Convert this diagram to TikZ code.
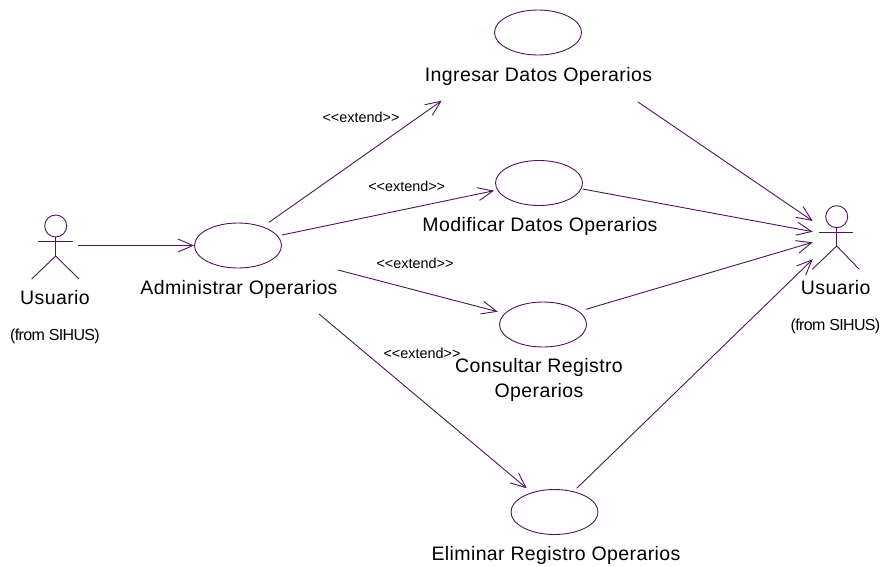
\documentclass[tikz,border=0pt]{standalone}
\usepackage{fontspec}
\setmainfont{Liberation Sans}
\newfontfamily\labfont[LetterSpace=2]{Liberation Sans}
\newfontfamily\fromfont[LetterSpace=-4]{Liberation Sans}
\usetikzlibrary{arrows.meta,shapes.geometric}
\definecolor{umlline}{RGB}{80,20,90}
\tikzset{
  x=1pt,y=-1pt,
  usecase/.style={draw=umlline,ellipse,line width=0.9pt,minimum width=87pt,minimum height=45pt,inner sep=0pt},
  conn/.style={draw=umlline,line width=0.9pt,-{Straight Barb[length=15pt,width=13pt,line width=0.9pt]}},
  limb/.style={draw=umlline,line width=0.9pt},
  headc/.style={draw=umlline,circle,line width=0.9pt,minimum size=22pt,inner sep=0pt},
  lab/.style={font=\labfont\fontsize{19.5}{25.4}\selectfont,text=black,inner sep=0pt,align=center,anchor=base},
  from/.style={font=\fromfont\fontsize{16}{18}\selectfont,text=black,inner sep=0pt,anchor=base},
  small/.style={font=\fontsize{14.4}{16}\selectfont,text=black,inner sep=0pt,anchor=base}
}
\begin{document}
\begin{tikzpicture}
\useasboundingbox (0,0) rectangle (884,566);
% use cases
\node[usecase] (adm) at (238,245.5) {};
\node[usecase] (ing) at (538,32.5) {};
\node[usecase] (mod) at (539,183) {};
\node[usecase] (con) at (543,324.5) {};
\node[usecase] (eli) at (554.5,512) {};
% labels
\node[lab] (admL) at (239,294) {Administrar Operarios};
\node[lab] (ingL) at (538.5,81) {Ingresar Datos Operarios};
\node[lab] (modL) at (540,231) {Modificar Datos Operarios};
\node[lab,anchor=center] (conL) at (539,380) {Consultar Registro\\Operarios};
\node[lab] (eliL) at (556,560) {Eliminar Registro Operarios};
% actors
\node[headc] (h1) at (55.7,226) {};
\coordinate (a1l) at (38,241.7); \coordinate (a1r) at (72.7,241.7);
\coordinate (hip1) at (55.7,256); \coordinate (f1l) at (31.7,279); \coordinate (f1r) at (79,279);
\draw[limb] (a1l) -- (a1r);
\draw[limb] (h1.south) -- (hip1);
\draw[limb] (f1l) -- (hip1) -- (f1r);
\node[headc] (h2) at (836.7,216.7) {};
\coordinate (a2l) at (819,232); \coordinate (a2r) at (853,232);
\coordinate (hip2) at (836.7,246); \coordinate (f2l) at (812.3,269.3); \coordinate (f2r) at (859.3,269.3);
\draw[limb] (a2l) -- (a2r);
\draw[limb] (h2.south) -- (hip2);
\draw[limb] (f2l) -- (hip2) -- (f2r);
\node[lab] (u1) at (55,304) {Usuario};
\node[from] (f1) at (55,340.7) {(from SIHUS)};
\node[lab] (u2) at (835.7,294) {Usuario};
\node[from] (f2) at (835.5,330) {(from SIHUS)};
% connector ends
\coordinate (s0) at (78,245.5); \coordinate (e0) at (adm.west);
\coordinate (s1) at (269,222.3); \coordinate (e1) at (441.7,100.7);
\coordinate (s2) at (282,235); \coordinate (e2) at (494,190.7);
\coordinate (s3) at (338,270); \coordinate (e3) at (497.7,311.7);
\coordinate (s4) at (319,314); \coordinate (e4) at (526.7,488.3);
\coordinate (s5) at (638,102); \coordinate (e5) at (812.7,221);
\coordinate (s6) at (582.7,189); \coordinate (e6) at (812.7,231.7);
\coordinate (s7) at (586,309.3); \coordinate (e7) at (812.7,242.3);
\coordinate (s8) at (576.7,488.3); \coordinate (e8) at (812.7,259.3);
\draw[conn] (s0) -- (e0);
\draw[conn] (s1) -- (e1);
\draw[conn] (s2) -- (e2);
\draw[conn] (s3) -- (e3);
\draw[conn] (s4) -- (e4);
\draw[conn] (s5) -- (e5);
\draw[conn] (s6) -- (e6);
\draw[conn] (s7) -- (e7);
\draw[conn] (s8) -- (e8);
% stereotypes
\node[small] (x1) at (361,122.7) {<{}<extend>{}>};
\node[small] (x2) at (406.7,191.7) {<{}<extend>{}>};
\node[small] (x3) at (415,268.3) {<{}<extend>{}>};
\node[small] (x4) at (422,358.3) {<{}<extend>{}>};
\end{tikzpicture}
\end{document}
